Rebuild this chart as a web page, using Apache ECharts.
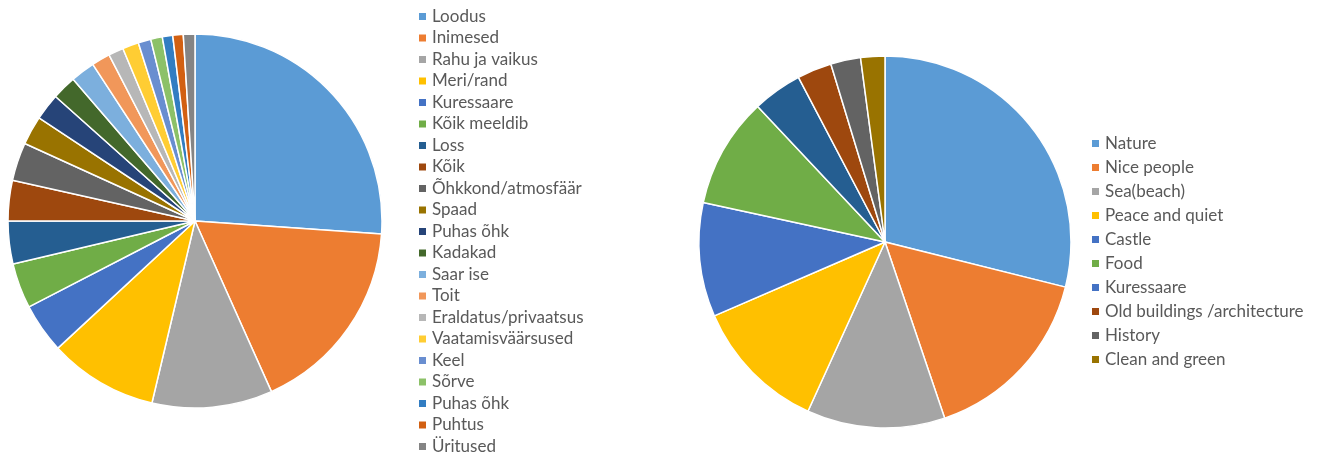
<!DOCTYPE html>
<html>
<head>
<meta charset="utf-8">
<script src="https://cdn.jsdelivr.net/npm/echarts@6/dist/echarts.min.js"></script>
<style>
  html, body { margin: 0; padding: 0; background: #fff; }
  #chart { width: 1325px; height: 455px; }
</style>
</head>
<body>
<div id="chart"></div>
<script>
  // vasak diagramm (eesti keeles)
  var leftNames = ['Loodus', 'Inimesed', 'Rahu ja vaikus', 'Meri/rand', 'Kuressaare', 'Kõik meeldib', 'Loss', 'Kõik',
    'Õhkkond/atmosfäär', 'Spaad', 'Puhas õhk', 'Kadakad', 'Saar ise', 'Toit', 'Eraldatus/privaatsus',
    'Vaatamisväärsused', 'Keel', 'Sõrve', 'Puhas õhk\u200b', 'Puhtus', 'Üritused'];
  var leftValues = [26.1, 17.2, 10.4, 9.4, 4.3, 3.9, 3.7, 3.5, 3.3, 2.5, 2.3, 2.1, 2.1, 1.6, 1.3, 1.4, 1.1, 1.0, 0.9, 0.9, 1.0];
  var leftColors = ['#5B9BD5', '#ED7D31', '#A5A5A5', '#FFC000', '#4472C4', '#70AD47', '#255E91', '#9E480E',
    '#636363', '#997300', '#264478', '#43682B', '#7CAFDD', '#F1975A', '#B7B7B7', '#FFCD33', '#698ED0',
    '#8CC168', '#327DC2', '#D26012', '#848484'];

  // parem diagramm (inglise keeles)
  var rightNames = ['Nature', 'Nice people', 'Sea(beach)', 'Peace and quiet', 'Castle', 'Food', 'Kuressaare',
    'Old buildings /architecture', 'History', 'Clean and green'];
  var rightValues = [28.9, 15.9, 12.0, 11.7, 9.9, 9.6, 4.3, 3.0, 2.6, 2.1];
  var rightColors = ['#5B9BD5', '#ED7D31', '#A5A5A5', '#FFC000', '#4472C4', '#70AD47', '#255E91', '#9E480E',
    '#636363', '#997300'];

  function toData(names, values, colors) {
    return names.map(function (n, i) {
      return {name: n, value: values[i], itemStyle: {color: colors[i]}};
    });
  }

  var textStyle = {
    fontFamily: 'Lato',
    fontSize: 17,
    color: '#595959'
  };

  var myChart = echarts.init(document.getElementById('chart'));
  myChart.setOption({
    backgroundColor: '#fff',
    animation: false,
    legend: [
      {
        orient: 'vertical',
        left: 417,
        top: 8,
        height: 447,
        padding: 0,
        itemWidth: 9,
        itemHeight: 9,
        itemGap: 4.5,
        icon: 'rect',
        data: leftNames,
        textStyle: textStyle,
        selectedMode: false
      },
      {
        orient: 'vertical',
        left: 1090,
        top: 135,
        padding: 0,
        itemWidth: 9,
        itemHeight: 9,
        itemGap: 7,
        icon: 'rect',
        data: rightNames,
        textStyle: textStyle,
        selectedMode: false
      }
    ],
    series: [
      {
        type: 'pie',
        center: [195, 221],
        radius: 187,
        startAngle: 90,
        clockwise: true,
        label: {show: false},
        labelLine: {show: false},
        itemStyle: {borderColor: '#fff', borderWidth: 1.5},
        data: toData(leftNames, leftValues, leftColors)
      },
      {
        type: 'pie',
        center: [885, 242],
        radius: 186,
        startAngle: 90,
        clockwise: true,
        label: {show: false},
        labelLine: {show: false},
        itemStyle: {borderColor: '#fff', borderWidth: 1.5},
        data: toData(rightNames, rightValues, rightColors)
      }
    ]
  });
</script>
</body>
</html>
